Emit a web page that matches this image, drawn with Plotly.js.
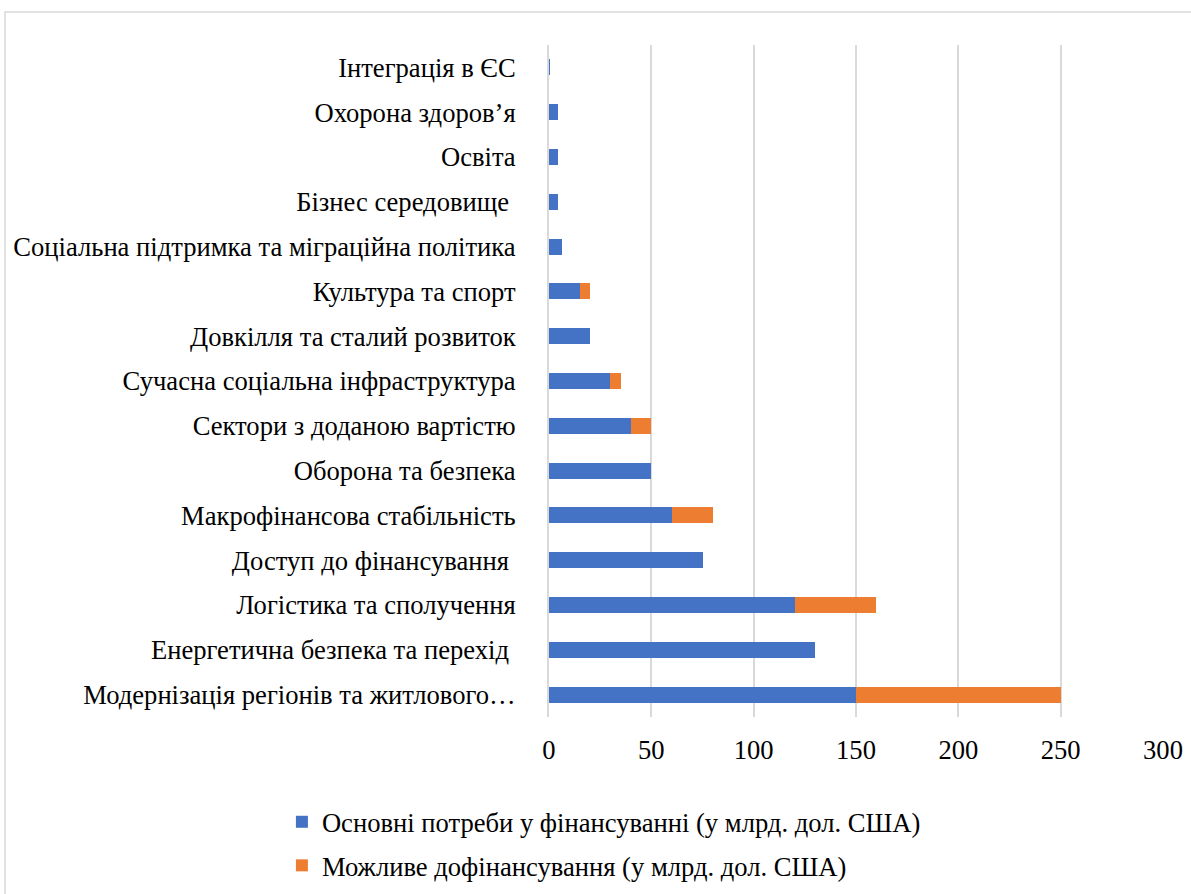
<!DOCTYPE html>
<html>
<head>
<meta charset="utf-8">
<script src="https://cdn.plot.ly/plotly-3.0.1.min.js"></script>
<style>html,body{margin:0;padding:0;background:#fff;}#chart{width:1191px;height:894px;}</style>
</head>
<body>
<div id="chart"></div>
<script>
const categories = [
  "Модернізація регіонів та житлового…",
  "Енергетична безпека та перехід ",
  "Логістика та сполучення",
  "Доступ до фінансування ",
  "Макрофінансова стабільність",
  "Оборона та безпека",
  "Сектори з доданою вартістю",
  "Сучасна соціальна інфраструктура",
  "Довкілля та сталий розвиток",
  "Культура та спорт",
  "Соціальна підтримка та міграційна політика",
  "Бізнес середовище ",
  "Освіта",
  "Охорона здоров’я",
  "Інтеграція в ЄС"
];
const basicNeeds = [150, 130, 120, 75, 60, 50, 40, 30, 20, 15, 6.5, 4.5, 4.5, 4.5, 0.6];
const additionalFunding = [100, 0, 40, 0, 20, 0, 10, 5, 0, 5, 0, 0, 0, 0, 0];
const seriesNames = [
  "Основні потреби у фінансуванні (у млрд. дол. США)",
  "Можливе дофінансування (у млрд. дол. США)"
];
const xTicks = [0, 50, 100, 150, 200, 250, 300];

const font = {family: "Liberation Serif, Times New Roman, serif", size: 26.6, color: "#000"};

const traces = [
  {type: "bar", orientation: "h", y: categories, x: basicNeeds, name: seriesNames[0],
   marker: {color: "#4472C4"}, legendgroup: "a", hoverinfo: "x+y"},
  {type: "bar", orientation: "h", y: categories, x: additionalFunding, name: seriesNames[1],
   marker: {color: "#ED7D31"}, legendgroup: "b", hoverinfo: "x+y"}
];

const layout = {
  width: 1191, height: 894,
  margin: {l: 549, r: 28, t: 45, b: 177},
  barmode: "stack",
  bargap: 0.64,
  paper_bgcolor: "#fff",
  plot_bgcolor: "#fff",
  font: font,
  showlegend: true,
  xaxis: {
    range: [0, 300], tickvals: xTicks, ticktext: xTicks.map(String),
    showgrid: true, gridcolor: "#d9d9d9", gridwidth: 2,
    zeroline: false, showline: false, ticks: "", tickangle: 0,
    ticklabelstandoff: 14,
    tickfont: font, fixedrange: true
  },
  yaxis: {
    type: "category", categoryorder: "array", categoryarray: categories,
    showgrid: false, zeroline: false, showline: true, linecolor: "#d9d9d9", linewidth: 2,
    ticks: "", ticklabelstandoff: 26, tickfont: font, fixedrange: true
  },
  legend: {
    orientation: "v", xref: "paper", yref: "container",
    x: -0.435, xanchor: "left", y: 0.1074, yanchor: "top",
    traceorder: "grouped", tracegroupgap: 6,
    font: font, bgcolor: "rgba(0,0,0,0)"
  },
  shapes: [
    {type: "rect", xref: "paper", yref: "paper", x0: -0.886, x1: 1.2, y0: -0.5, y1: 1.049,
     line: {color: "#d9d9d9", width: 1.5}, fillcolor: "rgba(0,0,0,0)", layer: "below"}
  ]
};

Plotly.newPlot("chart", traces, layout, {displayModeBar: false, staticPlot: true});
</script>
</body>
</html>
